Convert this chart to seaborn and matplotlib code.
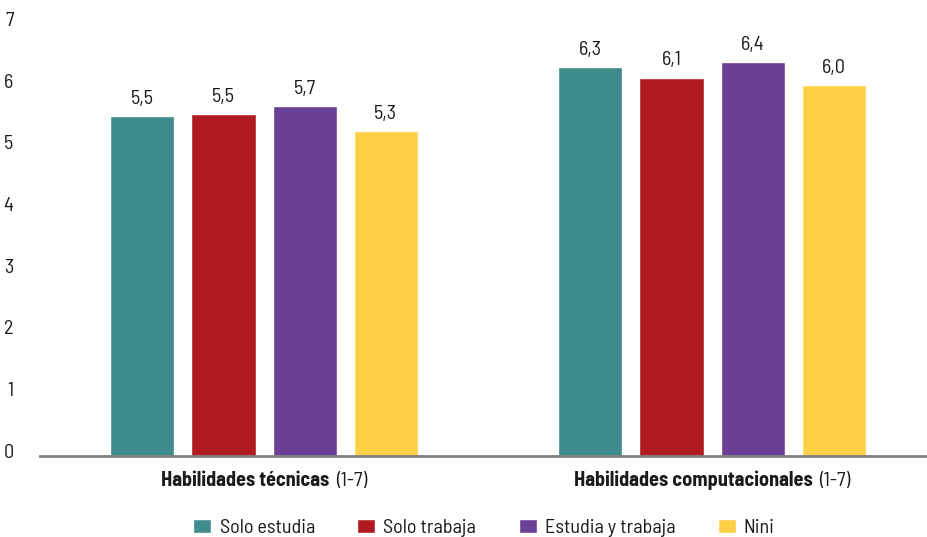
import matplotlib
matplotlib.use("Agg")
import matplotlib.pyplot as plt
import matplotlib.transforms as mtransforms
from matplotlib.offsetbox import AnnotationBbox, HPacker, TextArea
import pandas as pd
import seaborn as sns

sns.set_theme(style="white")
plt.rcParams["font.family"] = ["Barlow Semi Condensed", "Liberation Sans", "DejaVu Sans"]

TEXT = "#1a1a1a"
FS = 14.5

grupos = ["Habilidades técnicas", "Habilidades computacionales"]
sufijo = "(1-7)"
series = ["Solo estudia", "Solo trabaja", "Estudia y trabaja", "Nini"]
colores = ["#3f8c8c", "#b01b22", "#6a3f96", "#ffd045"]

solo_estudia = [5.51, 6.30]
solo_trabaja = [5.54, 6.13]
estudia_y_trabaja = [5.67, 6.38]
nini = [5.26, 6.01]

valores = [solo_estudia, solo_trabaja, estudia_y_trabaja, nini]
rows = []
for s, vals in zip(series, valores):
    for g, v in zip(grupos, vals):
        rows.append({"grupo": g, "serie": s, "valor": v})
df = pd.DataFrame(rows)

fig = plt.figure(figsize=(9.28, 5.37), dpi=100)
ax = fig.add_axes([40 / 928, 1 - 455.5 / 537, 888 / 928, (455.5 - 24) / 537])

sns.barplot(
    data=df, x="grupo", y="valor", hue="serie", palette=colores,
    hue_order=series, order=grupos, width=0.724, gap=0.21,
    saturation=1, errorbar=None, ax=ax,
)

for cont in ax.containers:
    ax.bar_label(
        cont, labels=[f"{b.get_height():.1f}".replace(".", ",") for b in cont],
        padding=6, fontsize=FS, color=TEXT,
    )

ax.set_ylim(0, 7)
ax.set_xlim(-0.5, 1.482)
ax.set_yticks(range(8))
ax.tick_params(axis="y", length=0, pad=19, labelsize=FS, labelcolor=TEXT)
ax.tick_params(axis="x", length=0)
off = mtransforms.ScaledTranslation(0, 5 / 100, fig.dpi_scale_trans)
for lab in ax.get_yticklabels():
    lab.set_transform(lab.get_transform() + off)
ax.set_xticklabels([])
ax.set_xlabel("")
ax.set_ylabel("")
for side in ["top", "right", "left"]:
    ax.spines[side].set_visible(False)
ax.spines["bottom"].set_color("#7f7f7f")
ax.spines["bottom"].set_linewidth(2)

# category labels: bold name + plain range
for i, g in enumerate(grupos):
    box = HPacker(
        children=[
            TextArea(g, textprops=dict(fontsize=FS, fontweight="bold", color=TEXT)),
            TextArea(sufijo, textprops=dict(fontsize=FS, color=TEXT)),
        ],
        align="baseline", pad=0, sep=5,
    )
    ab = AnnotationBbox(
        box, (i, 0), xybox=(0, -11), xycoords=("data", "axes fraction"),
        boxcoords="offset points", box_alignment=(0.5, 1), frameon=False,
    )
    ax.add_artist(ab)

sns.move_legend(
    ax, "center", bbox_to_anchor=(0.5, -0.168), ncol=4, frameon=False,
    title=None, fontsize=FS, handlelength=0.9, handleheight=0.7,
    handletextpad=0.4, columnspacing=2.1,
)
for t in ax.get_legend().get_texts():
    t.set_color(TEXT)

fig.savefig("out.png", dpi=100)
